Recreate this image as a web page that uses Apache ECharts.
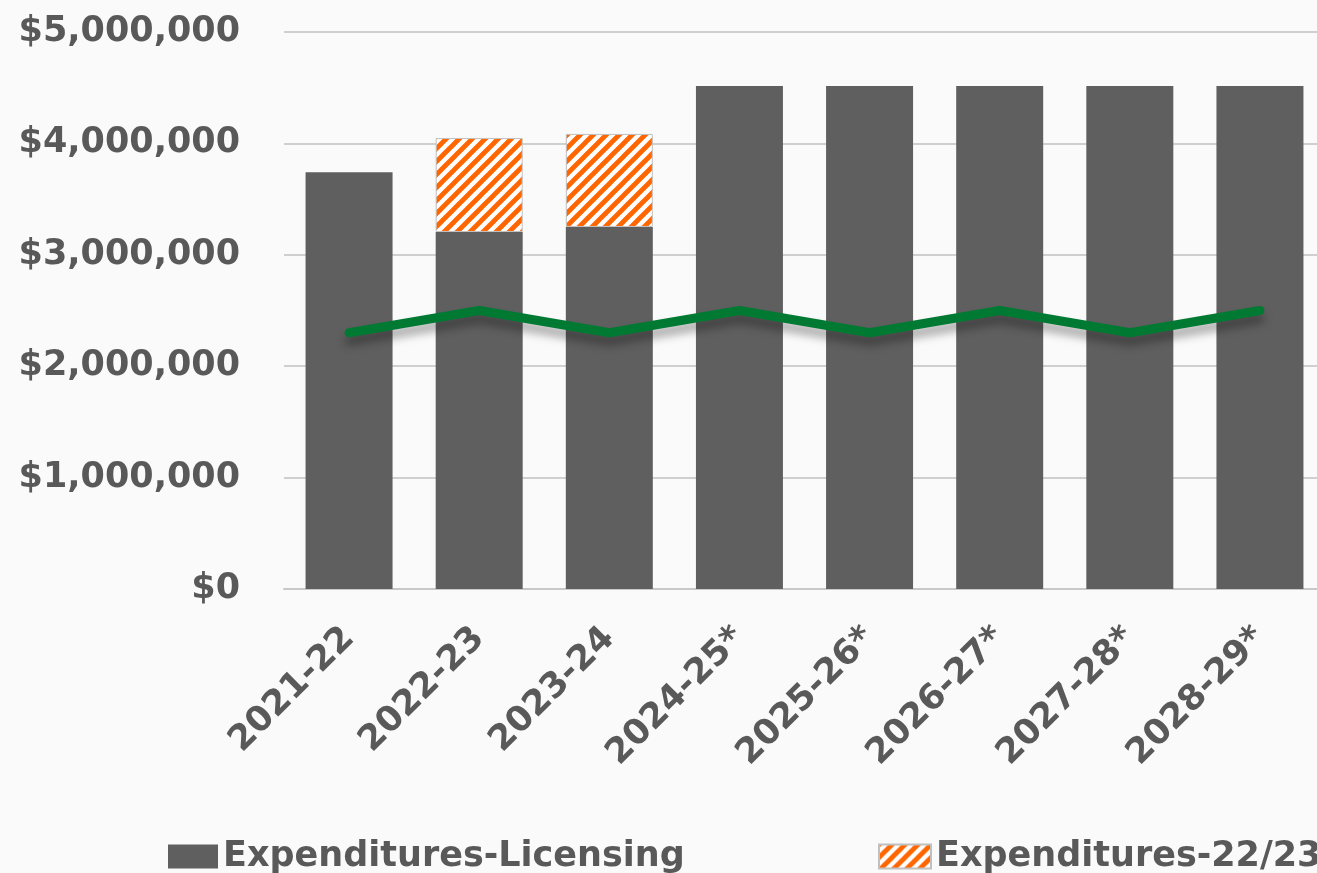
<!DOCTYPE html>
<html>
<head>
<meta charset="utf-8">
<script src="https://cdn.jsdelivr.net/npm/echarts@6/dist/echarts.min.js"></script>
<style>
  html, body { margin: 0; padding: 0; background: #fafafa; overflow: hidden; }
  #chart { width: 1325px; height: 873px; }
</style>
</head>
<body>
<div id="chart"></div>
<script>
var years = ['2021-22', '2022-23', '2023-24', '2024-25*', '2025-26*', '2026-27*', '2027-28*', '2028-29*'];
var licensing = [3740000, 3205000, 3250000, 4515000, 4515000, 4515000, 4515000, 4515000];
var carryover = ['-', 843000, 835000, '-', '-', '-', '-', '-'];
var revenue = [2300000, 2500000, 2300000, 2500000, 2300000, 2500000, 2300000, 2500000];

// hatch fill, orange stripes on white
function hatch() {
    var s = 13;
    var c = document.createElement('canvas');
    c.width = s;
    c.height = s;
    var ctx = c.getContext('2d');
    ctx.fillStyle = '#ffffff';
    ctx.fillRect(0, 0, s, s);
    ctx.strokeStyle = '#ff6600';
    ctx.lineWidth = 4.8;
    ctx.beginPath();
    ctx.moveTo(-s, s); ctx.lineTo(s, -s);
    ctx.moveTo(0, s * 2); ctx.lineTo(s * 2, 0);
    ctx.moveTo(0, s); ctx.lineTo(s, 0);
    ctx.stroke();
    return { image: c, repeat: 'repeat' };
}

var font = 'DejaVu Sans';
var grey = '#595959';
var fs = 35;
var chart = echarts.init(document.getElementById('chart'));

chart.setOption({
    backgroundColor: '#fafafa',
    animation: false,
    textStyle: { fontFamily: font },
    grid: { left: 284, right: 0, top: 32, bottom: 284, containLabel: false },
    legend: [{
        left: 163, top: 834,
        icon: 'rect',
        itemWidth: 50, itemHeight: 24,
        textStyle: { fontSize: fs, fontWeight: 'bold', color: grey, fontFamily: font },
        data: ['Expenditures-Licensing']
    }, {
        left: 873, top: 834,
        icon: 'rect',
        itemWidth: 52, itemHeight: 24,
        textStyle: { fontSize: fs, fontWeight: 'bold', color: grey, fontFamily: font },
        data: ['Expenditures-22/23 Carryover']
    }],
    xAxis: {
        type: 'category',
        data: years,
        axisLine: { lineStyle: { color: '#c8c8c8', width: 2 } },
        axisTick: { show: false },
        axisLabel: {
            rotate: 45, margin: 44,
            fontSize: fs, fontWeight: 'bold', color: grey, fontFamily: font
        }
    },
    yAxis: {
        type: 'value',
        min: 0, max: 5000000, interval: 1000000,
        axisLine: { show: false },
        axisTick: { show: false },
        splitLine: { lineStyle: { color: '#cfcfcf', width: 2 } },
        axisLabel: {
            margin: 44,
            fontSize: fs, fontWeight: 'bold', color: grey, fontFamily: font,
            formatter: function(v) {
                return '$' + v.toLocaleString('en-US');
            }
        }
    },
    series: [{
        name: 'Expenditures-Licensing',
        type: 'bar',
        stack: 'exp',
        barWidth: 87,
        data: licensing,
        itemStyle: { color: '#5f5f5f' }
    }, {
        name: 'Expenditures-22/23 Carryover',
        type: 'bar',
        stack: 'exp',
        barWidth: 87,
        data: carryover,
        itemStyle: { color: hatch(), borderColor: '#c0c0c0', borderWidth: 1 }
    }, {
        name: 'Revenue',
        type: 'line',
        data: revenue,
        symbol: 'none',
        z: 5,
        lineStyle: {
            color: '#007a33', width: 9, cap: 'round', join: 'round',
            shadowColor: 'rgba(0,0,0,0.35)', shadowBlur: 10, shadowOffsetY: 8
        }
    }]
});
</script>
</body>
</html>
